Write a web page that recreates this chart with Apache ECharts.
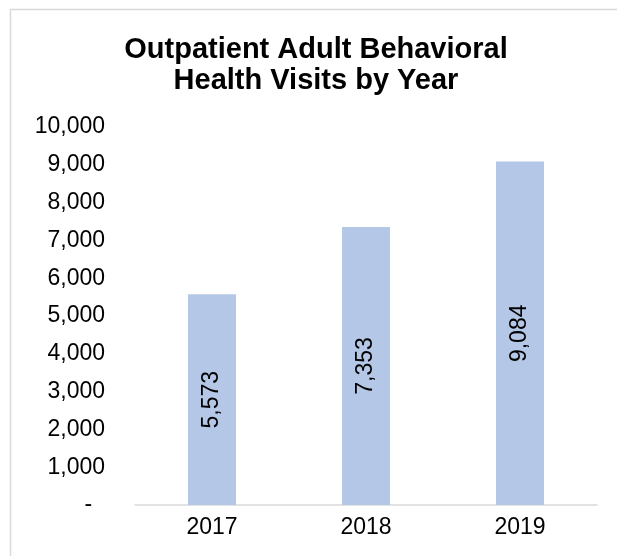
<!DOCTYPE html>
<html>
<head>
<meta charset="utf-8">
<script src="https://cdn.jsdelivr.net/npm/echarts@6/dist/echarts.min.js"></script>
<style>html,body{margin:0;padding:0;background:#fff}#c{width:617px;height:556px}</style>
</head>
<body>
<div id="c"></div>
<script>
const categories = ['2017', '2018', '2019'];
const visits = [5573, 7353, 9084];
const yMin = 0, yMax = 10000, yStep = 1000;

const FONT = '"Liberation Sans", Arial, sans-serif';
const fmt = v => v === 0 ? '-  ' : v.toLocaleString('en-US');

const chart = echarts.init(document.getElementById('c'));
chart.setOption({
  backgroundColor: '#fff',
  animation: false,
  graphic: [{
    type: 'rect', left: 8, top: 7,
    shape: { width: 700, height: 700 },
    style: { fill: 'none', stroke: '#d9d9d9', lineWidth: 1.5 },
    silent: true
  }],
  title: {
    text: 'Outpatient Adult Behavioral\nHealth Visits by Year',
    left: 311, top: 29, textAlign: 'center',
    textStyle: { fontFamily: FONT, fontSize: 29, fontWeight: 'bold', color: '#000', lineHeight: 31 }
  },
  grid: { left: 135, right: 20, top: 127, bottom: 51, containLabel: false },
  xAxis: {
    type: 'category', data: categories,
    axisLine: { show: true, lineStyle: { color: '#d9d9d9', width: 1.5 } },
    axisTick: { show: false },
    axisLabel: { fontFamily: FONT, fontSize: 23, color: '#000', margin: 11 }
  },
  yAxis: {
    type: 'value', min: yMin, max: yMax, interval: yStep,
    axisLine: { show: false }, axisTick: { show: false },
    splitLine: { show: false },
    axisLabel: { fontFamily: FONT, fontSize: 23, color: '#000', margin: 30, formatter: fmt }
  },
  series: [{
    type: 'bar', data: visits, barWidth: 48,
    itemStyle: { color: '#b4c7e7' },
    label: {
      show: true, position: 'inside', rotate: 90,
      fontFamily: FONT, fontSize: 23, color: '#000',
      formatter: p => p.value.toLocaleString('en-US')
    }
  }]
});
</script>
</body>
</html>
